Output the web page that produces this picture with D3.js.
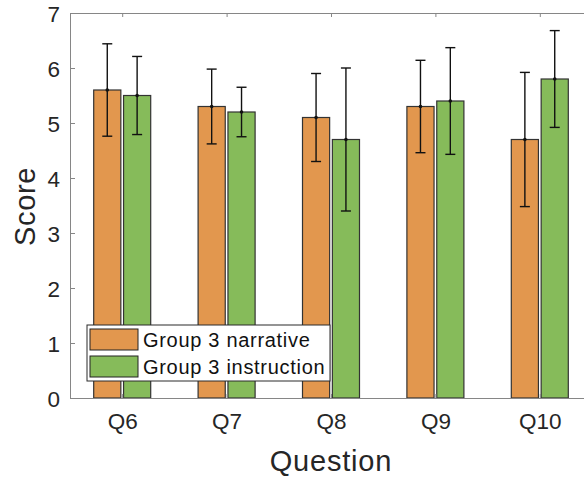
<!DOCTYPE html>
<html>
<head>
<meta charset="utf-8">
<script src="https://cdn.jsdelivr.net/npm/d3@7"></script>
<style>
  html, body { margin: 0; padding: 0; background: #fff; }
  svg { display: block; font-family: "Liberation Sans", Arial, sans-serif; }
</style>
</head>
<body>
<svg id="chart" width="584" height="477"></svg>
<script>
// Scores per question for the two Group 3 conditions, with standard deviations
const questions = ["Q6", "Q7", "Q8", "Q9", "Q10"];
const narrative = [5.6, 5.3, 5.1, 5.3, 4.7];
const instruction = [5.5, 5.2, 4.7, 5.4, 5.8];
const narrativeErr = [0.84, 0.68, 0.80, 0.84, 1.22];
const instructionErr = [0.71, 0.45, 1.30, 0.97, 0.88];
const seriesNames = ["Group 3 narrative", "Group 3 instruction"];
const yTicks = [0, 1, 2, 3, 4, 5, 6, 7];

const colors = ["#E2974E", "#86BB5A"];
const axisColor = "#868686";
const textColor = "#262626";

const series = [
  { name: seriesNames[0], values: narrative, errs: narrativeErr, color: colors[0], offset: -0.143 },
  { name: seriesNames[1], values: instruction, errs: instructionErr, color: colors[1], offset: 0.143 }
];
const barWidth = 0.26;

const svg = d3.select("#chart");
const plot = { left: 70, right: 592, top: 13, bottom: 398 };

const x = d3.scaleLinear().domain([0.5, questions.length + 0.5]).range([plot.left, plot.right]);
const y = d3.scaleLinear().domain([0, 7]).range([plot.bottom, plot.top]);

// bars
series.forEach(s => {
  svg.append("g").selectAll("rect")
    .data(s.values)
    .join("rect")
    .attr("x", (d, i) => x(i + 1 + s.offset - barWidth / 2))
    .attr("width", x(barWidth) - x(0))
    .attr("y", d => y(d))
    .attr("height", d => y(0) - y(d))
    .attr("fill", s.color)
    .attr("stroke", "#333")
    .attr("stroke-width", 1.2);
});

// error bars
series.forEach(s => {
  const g = svg.append("g").attr("stroke", "#111").attr("stroke-width", 1.4);
  s.values.forEach((v, i) => {
    const cx = x(i + 1 + s.offset);
    const e = s.errs[i];
    g.append("line").attr("x1", cx).attr("x2", cx).attr("y1", y(v + e)).attr("y2", y(v - e));
    g.append("line").attr("x1", cx - 5).attr("x2", cx + 5).attr("y1", y(v + e)).attr("y2", y(v + e));
    g.append("line").attr("x1", cx - 5).attr("x2", cx + 5).attr("y1", y(v - e)).attr("y2", y(v - e));
    svg.append("circle").attr("cx", cx).attr("cy", y(v)).attr("r", 1.8).attr("fill", "#111");
  });
});

// axes box
const yAxis = d3.axisLeft(y).tickValues(yTicks).tickFormat(d3.format("d")).tickSize(-5).tickPadding(10);
const gy = svg.append("g").attr("transform", `translate(${plot.left},0)`).call(yAxis);
gy.select(".domain").attr("stroke", axisColor);
gy.selectAll(".tick line").attr("stroke", axisColor);
gy.selectAll(".tick text").attr("fill", textColor).attr("font-size", 22.5).attr("dy", "0.36em");

const xAxis = d3.axisBottom(x).tickValues(d3.range(1, questions.length + 1))
  .tickFormat((d, i) => questions[i]).tickSize(-4).tickPadding(15);
const gx = svg.append("g").attr("transform", `translate(0,${plot.bottom})`).call(xAxis);
gx.select(".domain").attr("stroke", axisColor);
gx.selectAll(".tick line").attr("stroke", axisColor);
gx.selectAll(".tick text").attr("fill", textColor).attr("font-size", 22.5);

const xTop = d3.axisTop(x).tickValues(d3.range(1, questions.length + 1)).tickSize(-4).tickFormat("");
const gt = svg.append("g").attr("transform", `translate(0,${plot.top})`).call(xTop);
gt.select(".domain").attr("stroke", axisColor);
gt.selectAll(".tick line").attr("stroke", axisColor);

svg.append("line").attr("x1", plot.right).attr("x2", plot.right)
  .attr("y1", plot.top).attr("y2", plot.bottom).attr("stroke", axisColor);

// axis titles
svg.append("text")
  .attr("x", (plot.left + plot.right) / 2).attr("y", 471)
  .attr("text-anchor", "middle").attr("font-size", 29).attr("letter-spacing", 0.8)
  .attr("fill", textColor).text("Question");

svg.append("text")
  .attr("transform", `translate(35,${(plot.top + plot.bottom) / 2 + 1}) rotate(-90)`)
  .attr("text-anchor", "middle").attr("font-size", 29).attr("letter-spacing", 0.6)
  .attr("fill", textColor).text("Score");

// legend
const legend = svg.append("g").attr("transform", "translate(87,325)");
legend.append("rect").attr("width", 243).attr("height", 56)
  .attr("fill", "#fff").attr("stroke", "#2a2a2a").attr("stroke-width", 1);
series.forEach((s, i) => {
  const row = legend.append("g").attr("transform", `translate(0,${4 + i * 27})`);
  row.append("rect").attr("x", 3).attr("y", 0).attr("width", 48).attr("height", 21)
    .attr("fill", s.color).attr("stroke", "#222").attr("stroke-width", 1);
  row.append("text").attr("x", 56).attr("y", 18).attr("font-size", 20)
    .attr("letter-spacing", 0.7).attr("fill", "#111").text(s.name);
});
</script>
</body>
</html>
